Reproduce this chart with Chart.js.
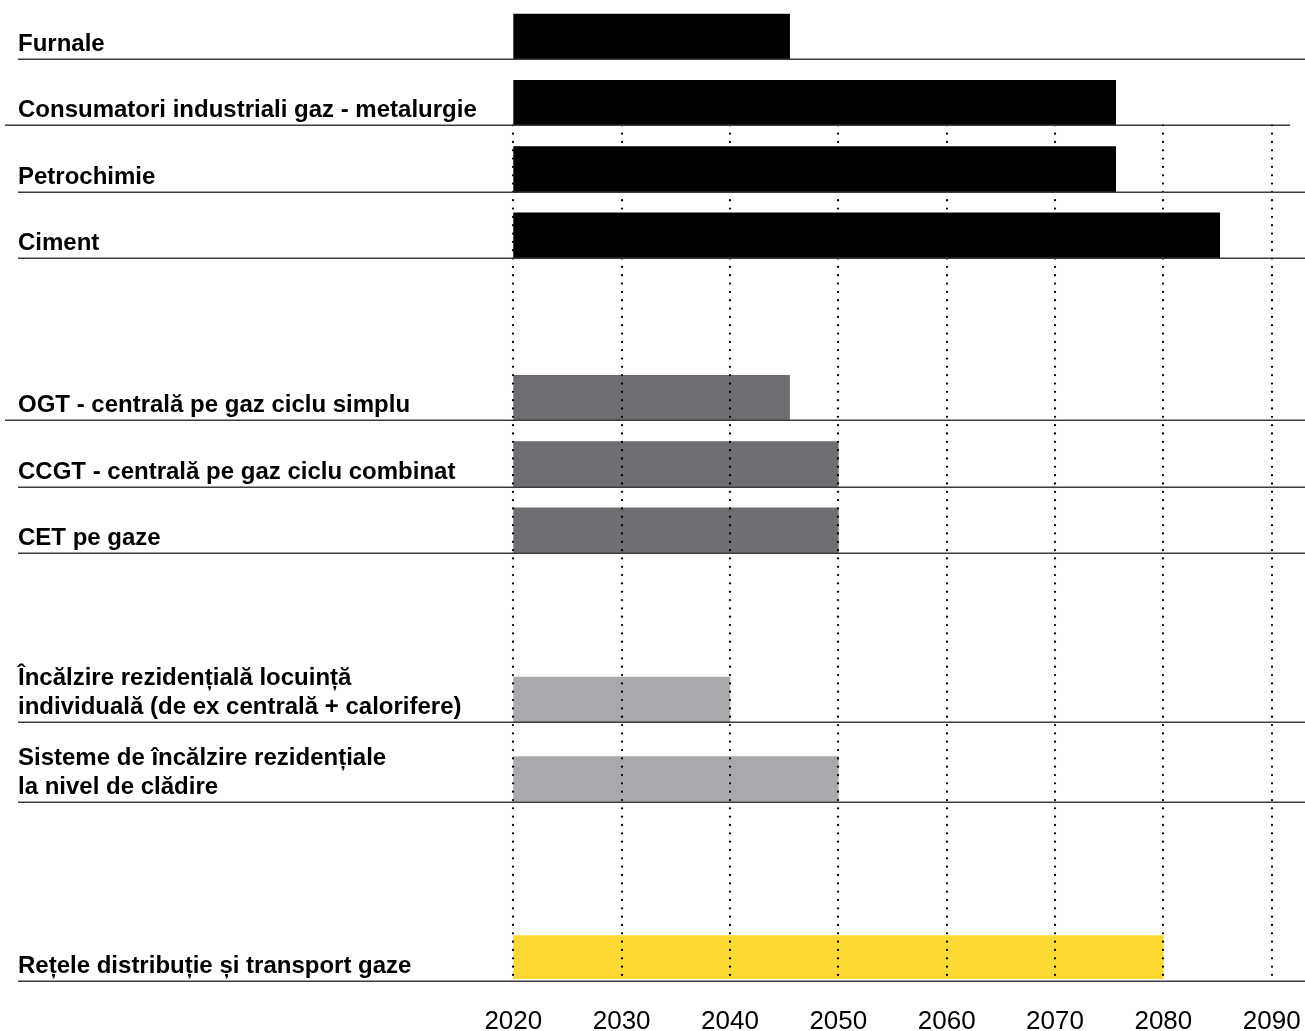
<!DOCTYPE html>
<html><head><meta charset="utf-8">
<script src="https://cdn.jsdelivr.net/npm/chart.js@4.4.1/dist/chart.umd.min.js"></script>
<style>html,body{margin:0;padding:0;background:#fff}#wrap{width:1305px;height:1031px;position:relative}</style>
</head><body><div id="wrap"><canvas id="c"></canvas></div>
<script>
// ---- data ----
const categories = [
  'Furnale',
  'Consumatori industriali gaz - metalurgie',
  'Petrochimie',
  'Ciment',
  'OGT - centrală pe gaz ciclu simplu',
  'CCGT - centrală pe gaz ciclu combinat',
  'CET pe gaze',
  ['Încălzire rezidențială locuință', 'individuală (de ex centrală + calorifere)'],
  ['Sisteme de încălzire rezidențiale', 'la nivel de clădire'],
  'Rețele distribuție și transport gaze'
];
const startYears = [2020, 2020, 2020, 2020, 2020, 2020, 2020, 2020, 2020, 2020];
const endYears   = [2045.5, 2075.6, 2075.6, 2085.2, 2045.5, 2050, 2050, 2040, 2050, 2080];
const groups = ['industrie','industrie','industrie','industrie','energie','energie','energie','rezidential','rezidential','retele'];
const yearTicks = [2020, 2030, 2040, 2050, 2060, 2070, 2080, 2090];

// ---- layout / style ----
const rowSlots = [0, 1, 2, 3, 5.45, 6.45, 7.45, 10, 11.2, 13.9];
const groupColors = {industrie:'#000000', energie:'#6d6e71', rezidential:'#a7a9ac', retele:'#fdd833'};
const BAR = 45;

const overlay = {
  id: 'overlay',
  afterDatasetsDraw(chart) {
    const ctx = chart.ctx, xs = chart.scales.x, ys = chart.scales.y;
    const half = BAR / 2;
    const bottomOf = i => ys.getPixelForValue(rowSlots[i]) + half;
    ctx.save();
    // dotted decade lines
    const yTop = bottomOf(1), yBot = bottomOf(rowSlots.length - 1);
    ctx.strokeStyle = '#000'; ctx.lineWidth = 2.3; ctx.lineCap = 'round';
    ctx.setLineDash([0, 8.33]);
    yearTicks.forEach(t => {
      const x = Math.round(xs.getPixelForValue(t));
      ctx.beginPath(); ctx.moveTo(x, yTop); ctx.lineTo(x, yBot); ctx.stroke();
    });
    ctx.setLineDash([]); ctx.lineCap = 'butt';
    // underlines
    ctx.strokeStyle = '#3c3c3c'; ctx.lineWidth = 1.5;
    categories.forEach((c, i) => {
      const y = Math.round(bottomOf(i)) + 0.25;
      const x0 = (i === 1 || i === 4) ? 5 : 18;
      const x1 = (i === 1) ? 1290 : chart.width;
      ctx.beginPath(); ctx.moveTo(x0, y); ctx.lineTo(x1, y); ctx.stroke();
    });
    // labels
    ctx.fillStyle = '#000';
    ctx.font = 'bold 24px "Liberation Sans", Arial, sans-serif';
    ctx.textBaseline = 'alphabetic'; ctx.textAlign = 'left';
    categories.forEach((c, i) => {
      const lines = Array.isArray(c) ? c : [c];
      const yb = bottomOf(i);
      lines.forEach((ln, j) => ctx.fillText(ln, 18, yb - 8 - (lines.length - 1 - j) * 29));
    });
    ctx.restore();
  }
};

new Chart(document.getElementById('c'), {
  type: 'bar',
  data: {
    datasets: [{
      data: categories.map((c, i) => ({ x: [startYears[i], endYears[i]], y: rowSlots[i] })),
      backgroundColor: groups.map(g => groupColors[g]),
      borderWidth: 0,
      barThickness: BAR,
      grouped: false
    }]
  },
  options: {
    indexAxis: 'y',
    responsive: true,
    maintainAspectRatio: false,
    animation: false,
    layout: { padding: { left: 513.3, right: 33.3, top: 0, bottom: 0 } },
    plugins: { legend: { display: false }, tooltip: { enabled: false } },
    scales: {
      y: { type: 'linear', reverse: true, min: -0.5505, max: 14.216, offset: false, display: false },
      x: {
        type: 'linear', position: 'bottom', min: 2020, max: 2090, offset: false,
        afterBuildTicks: s => { s.ticks = yearTicks.map(v => ({ value: v })); },
        afterFit: s => { s.height = 52; },
        grid: { display: false, drawTicks: false },
        border: { display: false },
        ticks: {
          callback: v => String(v),
          color: '#000',
          padding: 0,
          maxRotation: 0,
          font: { family: '"Liberation Sans", Arial, sans-serif', size: 26, lineHeight: 3.27 }
        }
      }
    }
  },
  plugins: [overlay]
});
</script>
</body></html>
